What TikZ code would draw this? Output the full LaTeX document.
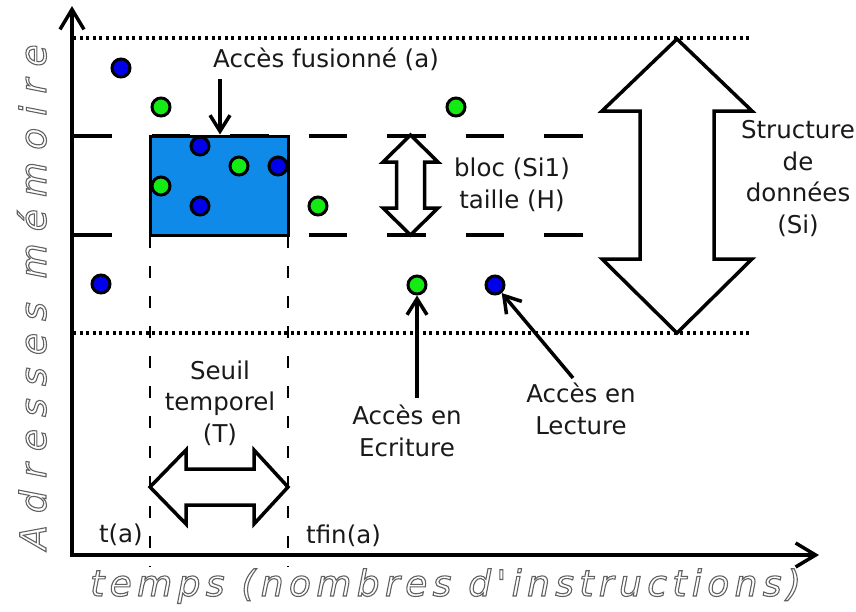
\documentclass[tikz,border=0pt]{standalone}
\usepackage{fontspec}
\setmainfont{DejaVu Sans}
\newfontfamily\axisfont{DejaVu Sans}[LetterSpace=14.9,Ligatures=TeXOff]
\newfontfamily\axisvfont{DejaVu Sans}[LetterSpace=33.7,Ligatures=TeXOff]
\usetikzlibrary{arrows.meta}
\definecolor{dblue}{RGB}{0,0,235}
\definecolor{dgreen}{RGB}{20,235,20}
\definecolor{rectblue}{RGB}{16,138,232}
\newcommand\outl[1]{\special{pdf:literal direct 1 Tr 1.1 w}#1\special{pdf:literal direct 0 Tr}}
\tikzset{
  axisline/.style={line width=3.5pt,-{Straight Barb[length=20pt,width=24pt]}},
  arr/.style={line width=3.5pt,-{Straight Barb[length=16pt,width=20pt]}},
  bdot/.style={circle,draw=black,line width=3pt,fill=dblue,minimum size=18pt,inner sep=0pt},
  gdot/.style={circle,draw=black,line width=3pt,fill=dgreen,minimum size=18pt,inner sep=0pt},
  lbl/.style={font=\fontsize{24.5}{31.5}\selectfont,align=center,inner sep=0pt,text=black!90},
  bigarrow/.style={draw=black,line width=3.5pt,fill=white,line join=miter},
  dotline/.style={line width=3.5pt,dash pattern=on 3pt off 3.6pt},
  blockline/.style={line width=3.5pt,dash pattern=on 38.5pt off 40pt},
  vdash/.style={line width=2.2pt,dash pattern=on 12pt off 18pt},
  axlbl/.style={inner sep=0pt,text=black!62}
}
\begin{document}
\begin{tikzpicture}[x=1pt,y=-1pt]
\useasboundingbox (0,0) rectangle (856,611);
% dotted limits of the data structure
\draw[dotline] (73,38) -- (750,38);
\draw[dotline] (73,333) -- (750,333);
% dashed block limits
\draw[blockline] (73,136) -- (585,136);
\draw[blockline] (73,235) -- (585,235);
% merged access block
\node[draw=black,line width=3pt,fill=rectblue,minimum width=138pt,minimum height=99pt,inner sep=0pt] (blk) at (219,185.5) {};
% vertical dashed time limits
\coordinate (ta) at (150,236);
\coordinate (tf) at (288,236);
\draw[vdash] (ta) -- (150,567);
\draw[vdash] (tf) -- (288,567);
% access dots
\node[bdot] (b1) at (121,68) {};
\node[gdot] (g1) at (161,107) {};
\node[bdot] (b2) at (200,146) {};
\node[gdot] (g2) at (239,166) {};
\node[bdot] (b3) at (278,166) {};
\node[gdot] (g3) at (161,186) {};
\node[bdot] (b4) at (200,206) {};
\node[gdot] (g4) at (318,206) {};
\node[gdot] (g5) at (456,107) {};
\node[bdot] (b5) at (101,284) {};
\node[gdot] (g6) at (417,285) {};
\node[bdot] (b6) at (495,285) {};
% big double arrow (data structure)
\draw[bigarrow] (677,39) -- (752,111) -- (714,111) -- (714,259) -- (752,259) -- (677,333)
  -- (602,259) -- (640,259) -- (640,111) -- (602,111) -- cycle;
% block size arrow
\draw[bigarrow] (410.5,135) -- (438,162) -- (424.5,162) -- (424.5,208) -- (438,208) -- (410.5,235)
  -- (383,208) -- (396.5,208) -- (396.5,162) -- (383,162) -- cycle;
% time threshold arrow
\draw[bigarrow] (150,487) -- (186,450) -- (186,469) -- (254,469) -- (254,450) -- (288,487)
  -- (254,524) -- (254,505) -- (186,505) -- (186,524) -- cycle;
% axes
\coordinate (O) at (72,555);
\coordinate (ytip) at (72,6);
\coordinate (xtip) at (819,555);
\draw[axisline] (72,557) -- (ytip);
\draw[axisline] (70.5,555) -- (xtip);
% labels
\node[lbl,anchor=base west] (fus) at (213,67) {Accès fusionné (a)};
\coordinate (fa) at (220,79);
\draw[arr] (fa) -- (fa |- blk.north);
\node[lbl,anchor=base] (bloc) at (512,208) {bloc (Si1)\\taille (H)};
\node[lbl,anchor=base] (struct) at (798,233) {Structure\\de\\données\\(Si)};
\node[lbl,anchor=base] (seuil) at (220,442) {Seuil\\temporel\\(T)};
\node[lbl,anchor=base] (ecr) at (407,456) {Accès en\\Ecriture};
\node[lbl,anchor=base] (lec) at (581,434) {Accès en\\Lecture};
\node[lbl,anchor=base east] (tal) at (143,542) {t(a)};
\node[lbl,anchor=base west] (tfl) at (306,543) {tfin(a)};
\coordinate (ws) at (417,398);
\draw[arr] (ws) -- (g6.south);
\coordinate (ls) at (573,378);
\draw[arr] (ls) -- (b6);
% axis titles
\node[axlbl,anchor=base west] (xl) at (90,596) {\axisfont\itshape\fontsize{36}{40}\selectfont\outl{temps (nombres d'instructions)}};
\node[axlbl,anchor=base west,rotate=90] (yl) at (46,550) {\axisvfont\itshape\fontsize{36}{40}\selectfont\outl{Adresses mémoire}};
\end{tikzpicture}
\end{document}
